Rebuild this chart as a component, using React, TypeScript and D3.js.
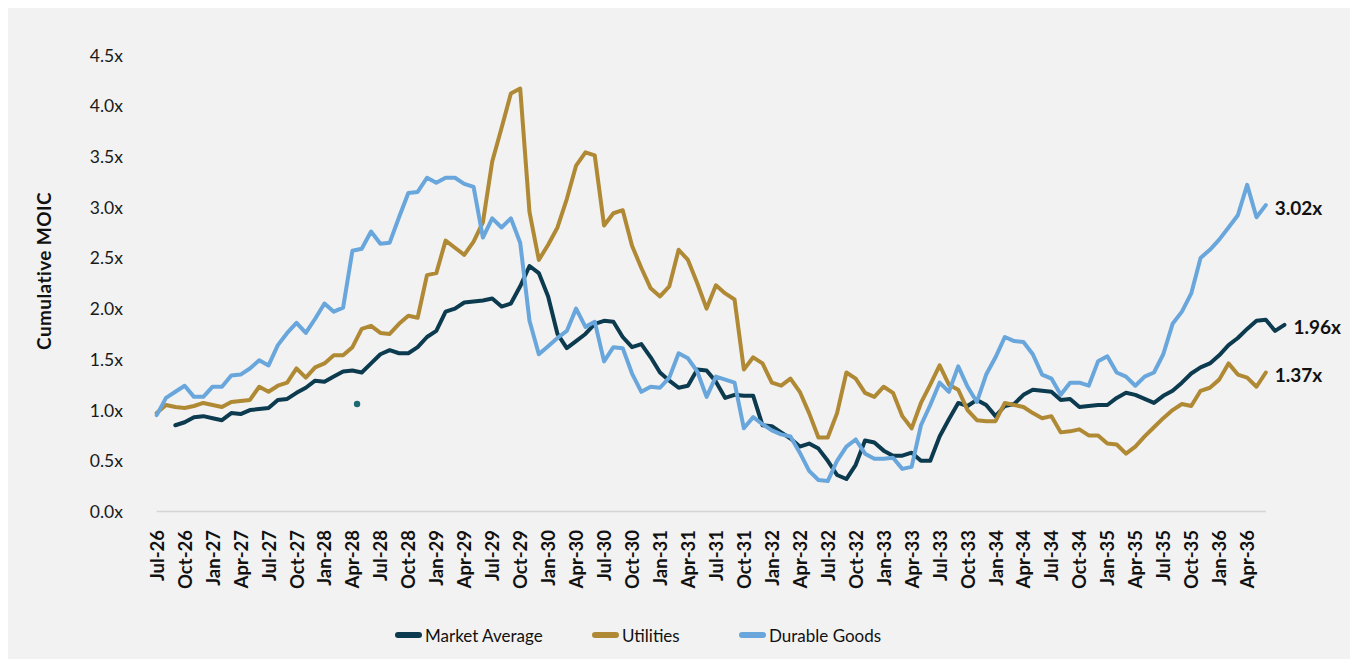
import React from "react";
import * as d3 from "d3";

// quarterly tick labels, one every 3 months starting Jul-26
const tickLabels = [
  "Jul-26", "Oct-26", "Jan-27", "Apr-27", "Jul-27", "Oct-27", "Jan-28", "Apr-28",
  "Jul-28", "Oct-28", "Jan-29", "Apr-29", "Jul-29", "Oct-29", "Jan-30", "Apr-30",
  "Jul-30", "Oct-30", "Jan-31", "Apr-31", "Jul-31", "Oct-31", "Jan-32", "Apr-32",
  "Jul-32", "Oct-32", "Jan-33", "Apr-33", "Jul-33", "Oct-33", "Jan-34", "Apr-34",
  "Jul-34", "Oct-34", "Jan-35", "Apr-35", "Jul-35", "Oct-35", "Jan-36", "Apr-36",
];

const yTicks = [0, 0.5, 1, 1.5, 2, 2.5, 3, 3.5, 4, 4.5];

// monthly values, Jul-26 .. Jun-36
const durableGoods = [
  0.95, 1.12, 1.18, 1.24, 1.13, 1.13, 1.23, 1.23, 1.34, 1.35,
  1.41, 1.49, 1.44, 1.64, 1.76, 1.86, 1.76, 1.9, 2.05, 1.97,
  2.01, 2.57, 2.59, 2.76, 2.64, 2.65, 2.9, 3.14, 3.15, 3.29,
  3.24, 3.29, 3.29, 3.23, 3.2, 2.7, 2.89, 2.8, 2.89, 2.65,
  1.88, 1.55, 1.63, 1.71, 1.78, 2.0, 1.82, 1.87, 1.48, 1.62,
  1.61, 1.36, 1.18, 1.23, 1.22, 1.32, 1.56, 1.51, 1.38, 1.13,
  1.33, 1.3, 1.27, 0.82, 0.93, 0.86, 0.8, 0.76, 0.74, 0.58,
  0.4, 0.31, 0.3, 0.5, 0.64, 0.71, 0.57, 0.52, 0.52, 0.53,
  0.42, 0.44, 0.85, 1.05, 1.27, 1.18, 1.43, 1.23, 1.08, 1.35,
  1.52, 1.72, 1.68, 1.67, 1.55, 1.35, 1.31, 1.15, 1.27, 1.27,
  1.24, 1.48, 1.53, 1.37, 1.33, 1.24, 1.33, 1.37, 1.55, 1.85,
  1.97, 2.15, 2.5, 2.58, 2.68, 2.8, 2.92, 3.22, 2.9, 3.02,
];

const utilities = [
  0.97, 1.05, 1.03, 1.02, 1.04, 1.07, 1.05, 1.03, 1.08, 1.09,
  1.1, 1.23, 1.18, 1.24, 1.27, 1.41, 1.32, 1.42, 1.46, 1.54,
  1.54, 1.62, 1.8, 1.83, 1.76, 1.75, 1.85, 1.93, 1.91, 2.33,
  2.35, 2.67, 2.6, 2.53, 2.66, 2.85, 3.45, 3.78, 4.12, 4.17,
  2.95, 2.48, 2.63, 2.8, 3.08, 3.41, 3.54, 3.51, 2.82, 2.94,
  2.97, 2.62, 2.4, 2.2, 2.12, 2.22, 2.58, 2.48, 2.25, 2.0,
  2.23, 2.15, 2.09, 1.4, 1.52, 1.46, 1.27, 1.24, 1.31, 1.18,
  0.97, 0.73, 0.73, 0.97, 1.37, 1.31, 1.17, 1.13, 1.23, 1.17,
  0.94, 0.82, 1.07, 1.25, 1.44, 1.25, 1.2, 1.0, 0.9, 0.89,
  0.89, 1.07, 1.05, 1.03, 0.97, 0.92, 0.94, 0.78, 0.79, 0.81,
  0.75, 0.75, 0.67, 0.66, 0.57, 0.64, 0.74, 0.83, 0.92, 1.0,
  1.06, 1.04, 1.19, 1.22, 1.3, 1.46, 1.35, 1.32, 1.23, 1.37,
];

// market average starts two months later (Sep-26 .. Aug-36)
const marketStart = 2;
const marketAverage = [
  0.85, 0.88, 0.93, 0.94, 0.92, 0.9, 0.97, 0.96, 1.0, 1.01,
  1.02, 1.1, 1.11, 1.17, 1.22, 1.29, 1.28, 1.33, 1.38, 1.39,
  1.37, 1.46, 1.55, 1.59, 1.56, 1.56, 1.62, 1.72, 1.78, 1.97,
  2.0, 2.06, 2.07, 2.08, 2.1, 2.02, 2.05, 2.22, 2.42, 2.35,
  2.12, 1.75, 1.61, 1.68, 1.75, 1.85, 1.88, 1.87, 1.72, 1.62,
  1.65, 1.52, 1.37, 1.29, 1.22, 1.24, 1.4, 1.39, 1.28, 1.12,
  1.15, 1.14, 1.14, 0.85, 0.84, 0.78, 0.72, 0.64, 0.67, 0.62,
  0.5, 0.36, 0.32, 0.46, 0.7, 0.68, 0.6, 0.55, 0.55, 0.58,
  0.5, 0.5, 0.74, 0.91, 1.07, 1.04, 1.1, 1.05, 0.94, 1.04,
  1.06, 1.15, 1.2, 1.19, 1.18, 1.1, 1.11, 1.03, 1.04, 1.05,
  1.05, 1.12, 1.17, 1.15, 1.11, 1.07, 1.14, 1.19, 1.27, 1.36,
  1.42, 1.46, 1.54, 1.64, 1.71, 1.8, 1.88, 1.89, 1.78, 1.84,
];

// lone marker near Apr-28
const strayPoint = { month: 21.5, value: 1.06 };

const endLabels = ["1.96x", "1.37x", "3.02x"];

const series = [
  { name: "Market Average", color: "#0c3a4f", values: marketAverage, start: marketStart, label: endLabels[0] },
  { name: "Utilities", color: "#b08935", values: utilities, start: 0, label: endLabels[1] },
  { name: "Durable Goods", color: "#68a6dc", values: durableGoods, start: 0, label: endLabels[2] },
];

const W = 1342;
const H = 651;
const FONT = "Lato, 'Open Sans', sans-serif";
const legendX = [388, 585, 732];

export default function App() {
  const x = d3.scaleLinear().domain([0, 119]).range([148.7, 1257.8]);
  const y = d3.scaleLinear().domain([0, 4.5]).range([503.5, 47]);

  const line = d3
    .line<number>()
    .x((d, i) => x(i))
    .y((d) => y(d));

  return (
    <svg width={W} height={H} style={{ display: "block", background: "#f2f2f2" }} fontFamily={FONT}>
      <rect width={W} height={H} fill="#f2f2f2" />

      {/* y axis labels */}
      {yTicks.map((t) => (
        <text key={t} x={115} y={y(t)} textAnchor="end" dominantBaseline="central" fontSize={17.5} fill="#1a1a1a">
          {d3.format(".1f")(t) + "x"}
        </text>
      ))}
      <text
        transform="translate(35,263) rotate(-90)"
        textAnchor="middle"
        dominantBaseline="central"
        fontSize={19}
        fontWeight="bold"
        letterSpacing={0.4}
        fill="#111"
      >
        Cumulative MOIC
      </text>

      {/* x axis */}
      <line x1={x(0)} x2={x(119)} y1={y(0)} y2={y(0)} stroke="#d4d4d4" strokeWidth={1.5} />
      {tickLabels.map((lab, i) => (
        <text
          key={lab}
          transform={`translate(${x(i * 3)},522) rotate(-90)`}
          textAnchor="end"
          dominantBaseline="central"
          fontSize={18.5}
          fontWeight="bold"
          fill="#111"
        >
          {lab}
        </text>
      ))}

      {/* series */}
      {series.map((s) => {
        const lx = x(s.start + s.values.length - 1);
        const ly = y(s.values[s.values.length - 1]);
        return (
          <g key={s.name}>
            <path
              d={line.x((d, i) => x(s.start + i))(s.values) || ""}
              fill="none"
              stroke={s.color}
              strokeWidth={4}
              strokeLinejoin="round"
              strokeLinecap="round"
            />
            <text x={lx + 9} y={ly + 2} dominantBaseline="central" fontSize={19} fontWeight="bold" fill="#111">
              {s.label}
            </text>
          </g>
        );
      })}
      <circle cx={x(strayPoint.month)} cy={y(strayPoint.value)} r={3.2} fill="#1f6a72" />

      {/* legend */}
      {series.map((s, i) => (
        <g key={s.name} transform={`translate(${legendX[i]},627)`}>
          <line x1={2} x2={23} y1={0} y2={0} stroke={s.color} strokeWidth={6} strokeLinecap="round" />
          <text x={29} y={0} dominantBaseline="central" fontSize={17} fill="#111">
            {s.name}
          </text>
        </g>
      ))}
    </svg>
  );
}
